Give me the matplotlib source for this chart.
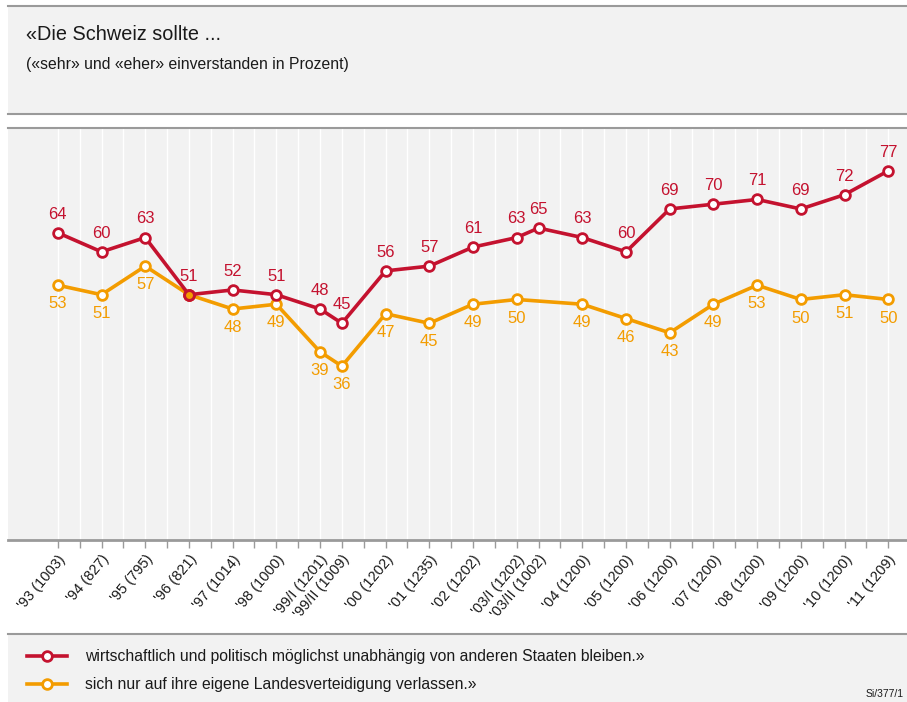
import numpy as np
import matplotlib
matplotlib.use("Agg")
import matplotlib.pyplot as plt
from matplotlib.patches import Rectangle
from matplotlib.lines import Line2D

plt.rcParams['font.family'] = ['Liberation Sans', 'DejaVu Sans']

# ---- data ----
labels = ["'93 (1003)", "'94 (827)", "'95 (795)", "'96 (821)", "'97 (1014)", "'98 (1000)",
          "'99/I (1201)", "'99/II (1009)", "'00 (1202)", "'01 (1235)", "'02 (1202)",
          "'03/I (1202)", "'03/II (1002)", "'04 (1200)", "'05 (1200)", "'06 (1200)",
          "'07 (1200)", "'08 (1200)", "'09 (1200)", "'10 (1200)", "'11 (1209)"]
unabhaengig = [64, 60, 63, 51, 52, 51, 48, 45, 56, 57, 61, 63, 65, 63, 60, 69, 70, 71, 69, 72, 77]
verteidigung = [53, 51, 57, 51, 48, 49, 39, 36, 47, 45, 49, 50, None, 49, 46, 43, 49, 53, 50, 51, 50]
series_names = ["wirtschaftlich und politisch möglichst unabhängig von anderen Staaten bleiben.»",
                "sich nur auf ihre eigene Landesverteidigung verlassen.»"]
title = "«Die Schweiz sollte ..."
subtitle = "(«sehr» und «eher» einverstanden in Prozent)"
source = "Si/377/1"

RED = "#c4122f"
ORANGE = "#f39c00"
BG = "#f2f2f2"
LINEGRAY = "#9a9a9a"
TXT = "#1a1a1a"

# positions: half step for second survey of the same year
steps = [0] + [0.5 if "/II" in l else 1 for l in labels[1:]]
x = np.cumsum(steps).astype(float)
r = np.array(unabhaengig, dtype=float)
o = np.array([np.nan if v is None else v for v in verteidigung], dtype=float)

W, H = 907, 702
fig = plt.figure(figsize=(W / 100, H / 100), dpi=100)
fig.patch.set_facecolor("white")

def fx(px): return px / W
def fy(py): return 1 - py / H

# header band
fig.patches.append(Rectangle((fx(8), fy(114)), fx(W - 8), (114 - 6) / H, transform=fig.transFigure,
                             facecolor=BG, edgecolor="none", zorder=0))
for yy in (6, 114, 128):
    fig.lines.append(Line2D([fx(8), 1], [fy(yy), fy(yy)], transform=fig.transFigure,
                            color=LINEGRAY, lw=1.5))
# legend band
fig.patches.append(Rectangle((fx(8), 0), fx(W - 8), (H - 634) / H, transform=fig.transFigure,
                             facecolor=BG, edgecolor="none", zorder=0))
fig.lines.append(Line2D([fx(8), 1], [fy(634), fy(634)], transform=fig.transFigure,
                        color=LINEGRAY, lw=1.5))

fig.text(fx(26), fy(35), title, fontsize=14.3, va="center", ha="left", color=TXT)
fig.text(fx(26), fy(65), subtitle, fontsize=11.3, va="center", ha="left", color=TXT)

# main axes
ax = fig.add_axes([fx(8), fy(540), 1 - fx(8), (540 - 128) / H])
ax.set_facecolor(BG)
ax.set_xlim(x[0] - 1.14, x[-1] + 0.43)
ax.set_ylim(-0.5, 86)
for s in ("top", "right", "left"):
    ax.spines[s].set_visible(False)
ax.spines["bottom"].set_color(LINEGRAY)
ax.spines["bottom"].set_linewidth(2)
ax.set_yticks([])

grid_ticks = np.arange(x[0], x[-1] + 0.01, 0.5)
for g in grid_ticks:
    ax.axvline(g, color="white", lw=1, zorder=1)
ax.set_xticks(grid_ticks, minor=True)
ax.set_xticks(x)
ax.set_xticklabels(labels, rotation=50, ha="right", va="top", rotation_mode="anchor", fontsize=10.5,
                   color=TXT)
ax.tick_params(axis="x", which="both", length=6, width=1, color=LINEGRAY, pad=3)

mo = ~np.isnan(o)
ax.plot(x[mo], o[mo], color=ORANGE, lw=2.6, marker="o", ms=7, mfc="white", mec=ORANGE, mew=2, zorder=3)
ax.plot(x, r, color=RED, lw=2.6, marker="o", ms=7, mfc="white", mec=RED, mew=2, zorder=4)
same = mo & (o == r)
ax.plot(x[same], r[same], ls="none", marker="o", ms=7, mfc=ORANGE, mec=RED, mew=2, zorder=5)

for xi, v in zip(x, r):
    ax.annotate(f"{v:.0f}", (xi, v), xytext=(0, 8), textcoords="offset points", ha="center",
                va="bottom", fontsize=12, color=RED, zorder=6)
for xi, v, rv in zip(x, o, r):
    if np.isnan(v) or v == rv:
        continue
    ax.annotate(f"{v:.0f}", (xi, v), xytext=(0, -8), textcoords="offset points", ha="center",
                va="top", fontsize=12, color=ORANGE, zorder=6)

# legend
for yy, col, name in ((656, RED, series_names[0]), (684, ORANGE, series_names[1])):
    fig.lines.append(Line2D([fx(27), fx(67)], [fy(yy), fy(yy)], transform=fig.transFigure,
                            color=col, lw=2.6, zorder=3))
    fig.lines.append(Line2D([fx(47)], [fy(yy)], transform=fig.transFigure, marker="o", ms=7,
                            mfc="white", mec=col, mew=2, zorder=4))
    fig.text(fx(85), fy(yy), name, fontsize=11.3, va="center", ha="left", color=TXT)

fig.text(fx(904), fy(694), source, fontsize=7.5, va="center", ha="right", color=TXT)

fig.savefig("out.png", dpi=100, facecolor=fig.get_facecolor())
